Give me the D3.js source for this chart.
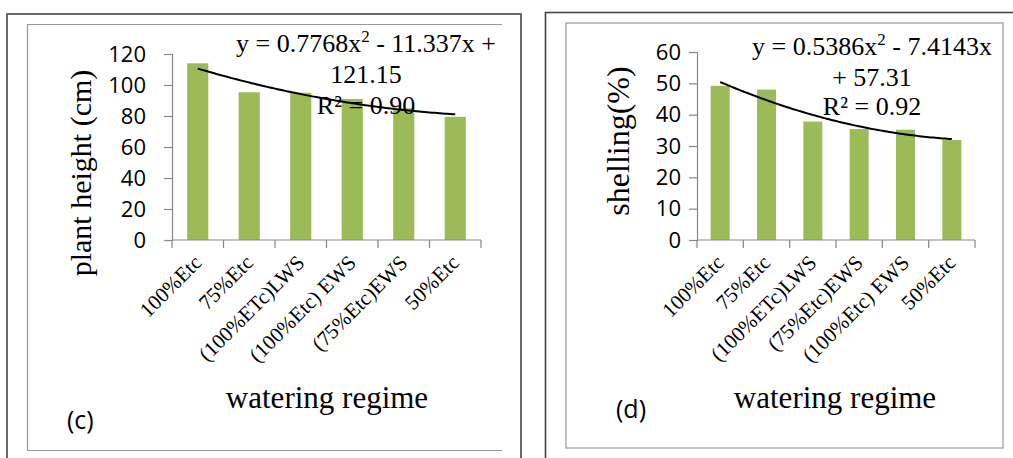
<!DOCTYPE html>
<html>
<head>
<meta charset="utf-8">
<script src="https://cdn.jsdelivr.net/npm/d3@7"></script>
<style>
  html, body { margin: 0; padding: 0; background: #fff; }
  svg { display: block; }
</style>
</head>
<body>
<svg id="chart" width="1013" height="458"></svg>
<script>
// ---- Data ----
const categoriesC = ["100%Etc", "75%Etc", "(100%ETc)LWS", "(100%Etc) EWS", "(75%Etc)EWS", "50%Etc"];
const valuesC = [114, 95.3, 95, 91, 85, 79.5];
const trendCoefC = [0.7768, -11.337, 121.15];
const ticksC = [0, 20, 40, 60, 80, 100, 120];

const categoriesD = ["100%Etc", "75%Etc", "(100%ETc)LWS", "(75%Etc)EWS", "(100%Etc) EWS", "50%Etc"];
const valuesD = [49.2, 48, 37.8, 35.4, 35.2, 31.9];
const trendCoefD = [0.5386, -7.4143, 57.31];
const ticksD = [0, 10, 20, 30, 40, 50, 60];

const svg = d3.select("#chart");
const serif = "'Liberation Serif', 'Times New Roman', serif";
const sans = "'Open Sans', 'Liberation Sans', sans-serif";

// Outer frames
svg.append("rect").attr("x", 7).attr("y", 14).attr("width", 514).attr("height", 460)
  .attr("fill", "none").attr("stroke", "#444").attr("stroke-width", 1.6);
svg.append("rect").attr("x", 545.5).attr("y", 12.5).attr("width", 480).attr("height", 460)
  .attr("fill", "none").attr("stroke", "#444").attr("stroke-width", 1.6);

// Inner frames
svg.append("path").attr("d", "M502,24.5 H27.5 V450.5 H502")
  .attr("fill", "none").attr("stroke", "#999").attr("stroke-width", 1.2);
svg.append("rect").attr("x", 566).attr("y", 23).attr("width", 437).attr("height", 425)
  .attr("fill", "none").attr("stroke", "#999").attr("stroke-width", 1.2);

function panel(cfg) {
  const g = svg.append("g");
  const x = d3.scaleBand().domain(cfg.cats).range([cfg.x0, cfg.x1]).paddingInner(0.59).paddingOuter(0.295);
  const xb = d3.scaleBand().domain(cfg.cats).range([cfg.x0, cfg.x1]);
  const y = d3.scaleLinear().domain([0, cfg.ymax]).range([cfg.yBase, cfg.yTop]);

  // bars
  g.selectAll("rect.bar").data(cfg.vals).enter().append("rect")
    .attr("class", "bar")
    .attr("x", (d, i) => x(cfg.cats[i]))
    .attr("width", x.bandwidth())
    .attr("y", d => y(d))
    .attr("height", d => y(0) - y(d))
    .attr("fill", "#9BBB59");

  // y axis
  const ya = g.append("g").attr("transform", `translate(${cfg.x0},0)`)
    .call(d3.axisLeft(y).tickValues(cfg.ticks).tickSize(8).tickPadding(cfg.tickPad));
  ya.select(".domain").attr("stroke", "#868686").attr("stroke-width", 1.2);
  ya.selectAll(".tick line").attr("stroke", "#868686").attr("stroke-width", 1.2);
  ya.selectAll(".tick text").attr("font-family", sans).attr("font-size", 22).attr("fill", "#000");

  // x axis
  const xa = g.append("g").attr("transform", `translate(0,${cfg.yBase})`);
  xa.append("line").attr("x1", cfg.x0).attr("x2", cfg.x1).attr("y1", 0).attr("y2", 0)
    .attr("stroke", "#868686").attr("stroke-width", 1.2);
  const bounds = cfg.cats.map(c => xb(c)).concat([cfg.x1]);
  xa.selectAll("line.tk").data(bounds).enter().append("line").attr("class", "tk")
    .attr("x1", d => d).attr("x2", d => d).attr("y1", 0).attr("y2", 8)
    .attr("stroke", "#868686").attr("stroke-width", 1.2);

  // category labels
  g.selectAll("text.cat").data(cfg.cats).enter().append("text")
    .attr("class", "cat")
    .attr("transform", d => `translate(${xb(d) + xb.bandwidth() / 2 + cfg.labDx},${cfg.yBase + cfg.labDy}) rotate(-45)`)
    .attr("text-anchor", "end")
    .attr("font-family", serif).attr("font-size", cfg.labSize).attr("fill", "#000")
    .text(d => d);

  // trend line
  const xn = d3.scaleLinear().domain([1, cfg.cats.length])
    .range([xb(cfg.cats[0]) + xb.bandwidth() / 2, xb(cfg.cats[cfg.cats.length - 1]) + xb.bandwidth() / 2]);
  const pts = d3.range(0, 101).map(k => 1 + k * (cfg.cats.length - 1) / 100);
  const f = t => cfg.coef[0] * t * t + cfg.coef[1] * t + cfg.coef[2];
  g.append("path").datum(pts)
    .attr("d", d3.line().x(t => xn(t)).y(t => y(f(t))))
    .attr("fill", "none").attr("stroke", "#000").attr("stroke-width", 2);

  // equation text
  const eq = g.append("g").attr("font-family", serif).attr("font-size", 26).attr("fill", "#000")
    .attr("text-anchor", "middle");
  const l1 = eq.append("text").attr("x", cfg.eqX).attr("y", cfg.eqY[0]);
  l1.append("tspan").text(cfg.eq1a);
  l1.append("tspan").attr("dy", -10).attr("font-size", 17).text("2");
  l1.append("tspan").attr("dy", 10).text(cfg.eq1b);
  eq.append("text").attr("x", cfg.eqX).attr("y", cfg.eqY[1]).text(cfg.eq2);
  eq.append("text").attr("x", cfg.eqX).attr("y", cfg.eqY[2]).text(cfg.eq3);

  // y axis title
  g.append("text")
    .attr("transform", `translate(${cfg.ytX},${cfg.ytY}) rotate(-90)`)
    .attr("text-anchor", "middle").attr("font-family", serif).attr("font-size", cfg.ytSize)
    .attr("fill", "#000").text(cfg.ytitle);

  // x axis title
  g.append("text").attr("x", cfg.xtX).attr("y", cfg.xtY)
    .attr("text-anchor", "middle").attr("font-family", serif).attr("font-size", 31)
    .attr("fill", "#000").text("watering regime");

  // panel letter
  g.append("text").attr("x", cfg.pX).attr("y", cfg.pY)
    .attr("font-family", sans).attr("font-size", 25).attr("fill", "#000").text(cfg.letter);
}

panel({
  cats: categoriesC, vals: valuesC, coef: trendCoefC, ticks: ticksC, ymax: 120,
  x0: 172, x1: 481, yBase: 240, yTop: 54, tickPad: 18,
  labDx: 5, labDy: 24, labSize: 21,
  eqX: 366, eqY: [52, 83, 114],
  eq1a: "y = 0.7768x", eq1b: " - 11.337x +", eq2: "121.15", eq3: "R² = 0.90",
  ytitle: "plant height (cm)", ytSize: 30, ytX: 91, ytY: 173,
  xtX: 327, xtY: 408, letter: "(c)", pX: 67, pY: 429
});

panel({
  cats: categoriesD, vals: valuesD, coef: trendCoefD, ticks: ticksD, ymax: 60,
  x0: 697, x1: 975, yBase: 240, yTop: 52, tickPad: 8,
  labDx: 5, labDy: 24, labSize: 21,
  eqX: 872, eqY: [55, 86, 115],
  eq1a: "y = 0.5386x", eq1b: " - 7.4143x", eq2: "+ 57.31", eq3: "R² = 0.92",
  ytitle: "shelling(%)", ytSize: 32, ytX: 629, ytY: 141,
  xtX: 835, xtY: 408, letter: "(d)", pX: 616, pY: 418
});
</script>
</body>
</html>
